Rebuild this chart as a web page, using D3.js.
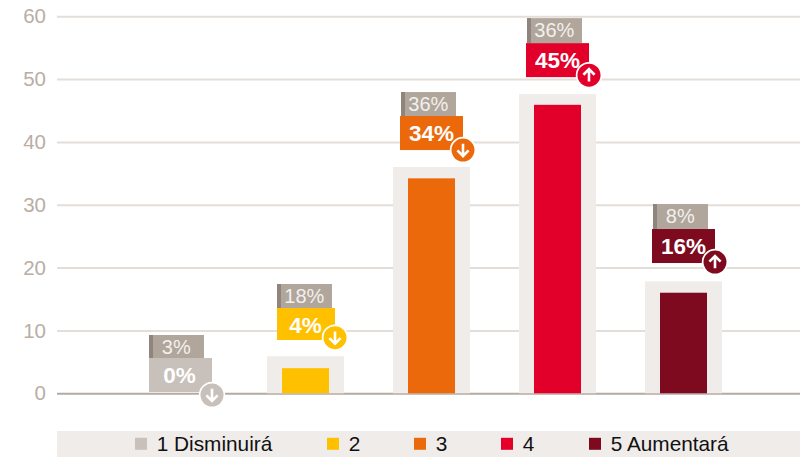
<!DOCTYPE html>
<html><head><meta charset="utf-8">
<script src="https://cdn.jsdelivr.net/npm/d3@7"></script>
<style>html,body{margin:0;padding:0;background:#fff;overflow:hidden}svg{display:block}text{font-family:"Liberation Sans",Arial,sans-serif}</style>
</head><body><svg id="c" width="800" height="457"></svg>
<script>
const categories = ["1 Disminuirá", "2", "3", "4", "5 Aumentará"];
const currentValues = [0, 4, 34.2, 45.9, 16];
const previousBarValues = [0, 5.9, 36, 47.6, 17.8];
const currentLabels = ["0%", "4%", "34%", "45%", "16%"];
const previousLabels = ["3%", "18%", "36%", "36%", "8%"];
const directions = ["down", "down", "down", "up", "up"];
const colors = ["#c8c0ba", "#ffc000", "#eb690b", "#e2002b", "#7d0a1e"];
const yTicks = [0, 10, 20, 30, 40, 50, 60];

const svg = d3.select("#c");
const y = d3.scaleLinear().domain([0, 60]).range([393.3, 16.2]);
const x = d3.scaleBand().domain(categories).range([116.5, 746.5]);
const cx = c => x(c) + x.bandwidth() / 2;

// grid + y axis
const gAxis = svg.append("g").attr("transform", "translate(57,0)")
  .call(d3.axisLeft(y).tickValues(yTicks).tickSize(-743).tickPadding(11));
gAxis.select(".domain").remove();
gAxis.selectAll(".tick line").attr("stroke", d => d === 0 ? "#b5aaa0" : "#e3ded9").attr("stroke-width", 2);
gAxis.selectAll(".tick text").attr("fill", "#b8aea5").style("font-size", "20.5px").style("font-family", '"Liberation Sans",Arial,sans-serif');

// bars
const barW = 77, coreW = 47;
const g = svg.selectAll(".cat").data(categories.map((c, i) => ({c, i}))).join("g").attr("class", "cat");
g.append("rect").attr("x", d => cx(d.c) - barW / 2).attr("width", barW)
  .attr("y", d => y(previousBarValues[d.i])).attr("height", d => y(0) - y(previousBarValues[d.i]))
  .attr("fill", "#efecea");
g.append("rect").attr("x", d => cx(d.c) - coreW / 2).attr("width", coreW)
  .attr("y", d => y(currentValues[d.i])).attr("height", d => y(0) - y(currentValues[d.i]))
  .attr("fill", d => colors[d.i]);

// value flags, anchored on the bars
const greyW = 55, greyH = 25;
g.each(function(d) {
  const s = d3.select(this), mid = cx(d.c);
  const gap = [0, 16.2, 17, 17, 18.4][d.i];
  const bottom = d.i === 0 ? y(0) - 1.3 : y(previousBarValues[d.i]) - gap;
  const boxH = d.i === 1 ? 32 : 34;
  const top = bottom - boxH;
  const left = mid - [30.5, 28.5, 31.5, 31.5, 31.5][d.i];
  const w = d.i === 1 ? 58 : 63;
  const greyL = d.i >= 2 ? left + 1 : left;
  const greyTop = top - greyH + [2, 1, 1, 0, 0][d.i];
  s.append("rect").attr("x", greyL).attr("y", greyTop).attr("width", greyW).attr("height", greyH).attr("fill", "#b1a69c");
  s.append("rect").attr("x", greyL).attr("y", greyTop).attr("width", 4).attr("height", greyH).attr("fill", "#8f857d");
  s.append("text").attr("x", greyL + 27.3).attr("y", greyTop + 18.7).attr("text-anchor", "middle")
    .attr("fill", "#f3f0ed").style("font-size", "20px").text(previousLabels[d.i]);
  s.append("rect").attr("x", left).attr("y", top).attr("width", w).attr("height", boxH).attr("fill", colors[d.i]);
  s.append("text").attr("x", mid).attr("y", top + 24.7).attr("text-anchor", "middle")
    .attr("fill", "#fff").style("font-size", "22.5px").style("font-weight", "bold").text(currentLabels[d.i]);
  const ccx = left + w, ccy = bottom + [3, -2.3, 0, -2, -1][d.i];
  s.append("circle").attr("cx", ccx).attr("cy", ccy).attr("r", 11.5).attr("fill", colors[d.i])
    .attr("stroke", "#fff").attr("stroke-width", 3.5).attr("paint-order", "stroke");
  const dir = directions[d.i] === "up" ? -1 : 1;
  s.append("path").attr("fill", "none").attr("stroke", "#fff").attr("stroke-width", 2.6)
    .attr("d", `M${ccx},${ccy - 6.3 * dir}V${ccy + 5.7 * dir}M${ccx - 5.6},${ccy + 0.4 * dir}L${ccx},${ccy + 6 * dir}L${ccx + 5.6},${ccy + 0.4 * dir}`);
});

// legend
svg.append("rect").attr("x", 57).attr("y", 431).attr("width", 743).attr("height", 26).attr("fill", "#efecea");
const legendX = d3.scaleOrdinal().domain(categories).range([135, 327, 414, 501, 589]);
const lg = svg.selectAll(".lg").data(categories.map((c, i) => ({c, i}))).join("g").attr("class", "lg")
  .attr("transform", d => `translate(${legendX(d.c)},0)`);
lg.append("rect").attr("y", 437.8).attr("width", 12).attr("height", 12).attr("fill", d => colors[d.i]);
lg.append("text").attr("x", 21.7).attr("y", 451).attr("fill", "#111").style("font-size", "20.8px").text(d => d.c);
</script></body></html>
